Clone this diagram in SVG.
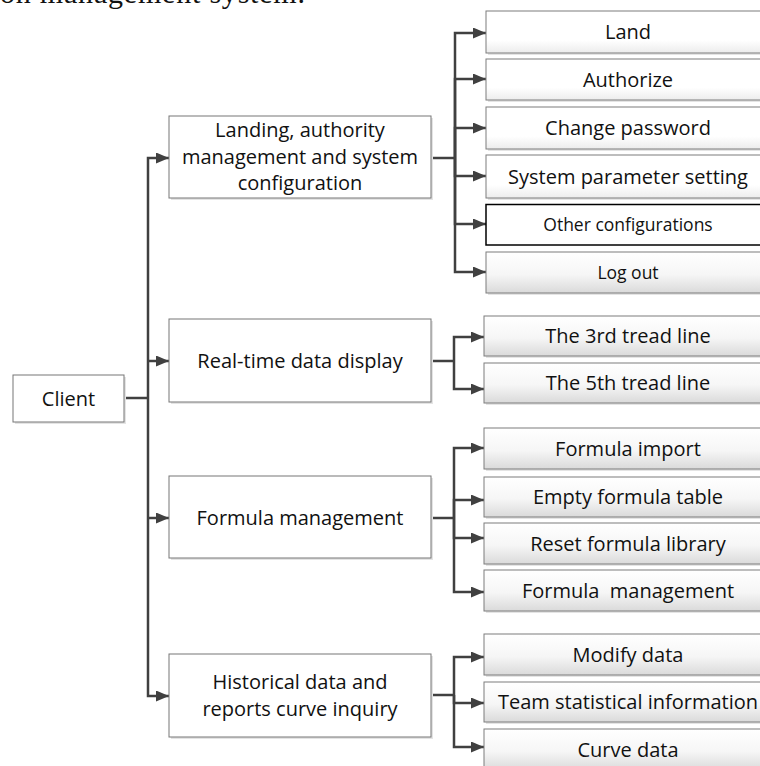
<svg xmlns="http://www.w3.org/2000/svg" width="760" height="766" viewBox="0 0 760 766">
<style>
.t{font-family:"Open Sans","Liberation Sans",sans-serif;font-size:20px;fill:#111;text-anchor:middle}
.ts{font-size:17.5px}
.p{fill:#fff;stroke:#767676;stroke-width:1}
.c{fill:url(#g);stroke:#7d7d7d;stroke-width:1}
.cw{fill:url(#gw);stroke:#7d7d7d;stroke-width:1}
.k{fill:#fff;stroke:#000;stroke-width:1.5}
.sh{fill:#e4e4e4}
.ln{fill:none;stroke:#404040;stroke-width:2.5;stroke-linejoin:miter}
.ar{marker-end:url(#ah)}
</style>
<defs>
<linearGradient id="g" x1="0" y1="0" x2="0" y2="1">
<stop offset="0" stop-color="#ffffff"/>
<stop offset="0.55" stop-color="#f6f6f6"/>
<stop offset="1" stop-color="#dadada"/>
</linearGradient>
<linearGradient id="gw" x1="0" y1="0" x2="0" y2="1">
<stop offset="0" stop-color="#ffffff"/>
<stop offset="0.7" stop-color="#ffffff"/>
<stop offset="1" stop-color="#ececec"/>
</linearGradient>
<marker id="ah" markerUnits="userSpaceOnUse" markerWidth="13" markerHeight="11" refX="13" refY="5.5" orient="auto">
<path d="M0,0 L13,5.5 L0,11 z" fill="#404040"/>
</marker>
</defs>

<text x="0" y="3" font-family="Liberation Serif, serif" font-size="30" textLength="305" fill="#111">on management system.</text>

<g id="connectors">
<path class="ln" d="M124,398 H148"/>
<path class="ln ar" d="M148,398 V158 H169"/>
<path class="ln ar" d="M148,361 H169"/>
<path class="ln ar" d="M148,518 H169"/>
<path class="ln ar" d="M148,398 V696 H169"/>

<path class="ln" d="M431,158 H455"/>
<path class="ln ar" d="M455,158 V33 H486"/>
<path class="ln ar" d="M455,158 V79 H486"/>
<path class="ln ar" d="M455,158 V128 H486"/>
<path class="ln ar" d="M455,158 V176 H486"/>
<path class="ln ar" d="M455,158 V224 H486"/>
<path class="ln ar" d="M455,158 V272 H486"/>

<path class="ln" d="M431,361 H454"/>
<path class="ln ar" d="M454,361 V337 H484"/>
<path class="ln ar" d="M454,361 V389 H484"/>

<path class="ln" d="M431,518 H454"/>
<path class="ln ar" d="M454,518 V448 H484"/>
<path class="ln ar" d="M454,518 V500 H484"/>
<path class="ln ar" d="M454,518 V538 H484"/>
<path class="ln ar" d="M454,518 V592 H484"/>

<path class="ln" d="M431,695 H454"/>
<path class="ln ar" d="M454,695 V657 H484"/>
<path class="ln ar" d="M454,695 V703 H484"/>
<path class="ln ar" d="M454,695 V747 H484"/>
</g>

<g id="client">
<rect class="sh" x="15" y="377" width="111" height="47"/>
<rect class="p" x="13" y="375" width="111" height="47"/>
<text class="t" x="68.5" y="405.5">Client</text>
</g>

<g id="landing">
<rect class="sh" x="171" y="118" width="262" height="82"/>
<rect class="p" x="169" y="116" width="262" height="82"/>
<text class="t" x="300" y="137">Landing, authority</text>
<text class="t" x="300" y="164">management and system</text>
<text class="t" x="300" y="190">configuration</text>
</g>

<g id="realtime">
<rect class="sh" x="171" y="321" width="262" height="83"/>
<rect class="p" x="169" y="319" width="262" height="83"/>
<text class="t" x="300" y="368">Real-time data display</text>
</g>

<g id="formula">
<rect class="sh" x="171" y="478" width="262" height="82"/>
<rect class="p" x="169" y="476" width="262" height="82"/>
<text class="t" x="300" y="524.5">Formula management</text>
</g>

<g id="historical">
<rect class="sh" x="171" y="656" width="262" height="83"/>
<rect class="p" x="169" y="654" width="262" height="83"/>
<text class="t" x="300" y="689">Historical data and</text>
<text class="t" x="300" y="716">reports curve inquiry</text>
</g>

<g id="land">
<rect class="sh" x="488" y="13" width="284" height="42"/>
<rect class="cw" x="486" y="11" width="284" height="42"/>
<text class="t" x="628" y="39">Land</text>
</g>
<g id="authorize">
<rect class="sh" x="488" y="61" width="284" height="41"/>
<rect class="cw" x="486" y="59" width="284" height="41"/>
<text class="t" x="628" y="86.5">Authorize</text>
</g>
<g id="changepw">
<rect class="sh" x="488" y="109" width="284" height="42"/>
<rect class="cw" x="486" y="107" width="284" height="42"/>
<text class="t" x="628" y="135">Change password</text>
</g>
<g id="sysparam">
<rect class="sh" x="488" y="157" width="284" height="43"/>
<rect class="cw" x="486" y="155" width="284" height="43"/>
<text class="t" x="628" y="183.5">System parameter setting</text>
</g>
<g id="otherconf">
<rect class="k" x="486" y="204.5" width="284" height="40.5"/>
<text class="t ts" x="628" y="231">Other configurations</text>
</g>
<g id="logout">
<rect class="sh" x="488" y="254" width="284" height="41"/>
<rect class="c" x="486" y="252" width="284" height="41"/>
<text class="t ts" x="628" y="279">Log out</text>
</g>

<g id="tread3">
<rect class="sh" x="486" y="318" width="284" height="40"/>
<rect class="c" x="484" y="316" width="286" height="40"/>
<text class="t" x="628" y="343">The 3rd tread line</text>
</g>
<g id="tread5">
<rect class="sh" x="486" y="365" width="284" height="40"/>
<rect class="c" x="484" y="363" width="286" height="40"/>
<text class="t" x="628" y="390">The 5th tread line</text>
</g>

<g id="fimport">
<rect class="sh" x="486" y="430" width="284" height="41"/>
<rect class="c" x="484" y="428" width="286" height="41"/>
<text class="t" x="628" y="455.5">Formula import</text>
</g>
<g id="fempty">
<rect class="sh" x="486" y="479" width="284" height="40"/>
<rect class="c" x="484" y="477" width="286" height="40"/>
<text class="t" x="628" y="504">Empty formula table</text>
</g>
<g id="freset">
<rect class="sh" x="486" y="525" width="284" height="41"/>
<rect class="c" x="484" y="523" width="286" height="41"/>
<text class="t" x="628" y="550.5">Reset formula library</text>
</g>
<g id="fmanage">
<rect class="sh" x="486" y="572" width="284" height="41"/>
<rect class="c" x="484" y="570" width="286" height="41"/>
<text class="t" x="628" y="597.5" xml:space="preserve">Formula  management</text>
</g>

<g id="modify">
<rect class="sh" x="486" y="636" width="284" height="41"/>
<rect class="c" x="484" y="634" width="286" height="41"/>
<text class="t" x="628" y="661.5">Modify data</text>
</g>
<g id="team">
<rect class="sh" x="486" y="684" width="284" height="40"/>
<rect class="c" x="484" y="682" width="286" height="40"/>
<text class="t" x="628" y="709">Team statistical information</text>
</g>
<g id="curve">
<rect class="sh" x="486" y="731" width="284" height="41"/>
<rect class="c" x="484" y="729" width="286" height="41"/>
<text class="t" x="628" y="757">Curve data</text>
</g>
</svg>
